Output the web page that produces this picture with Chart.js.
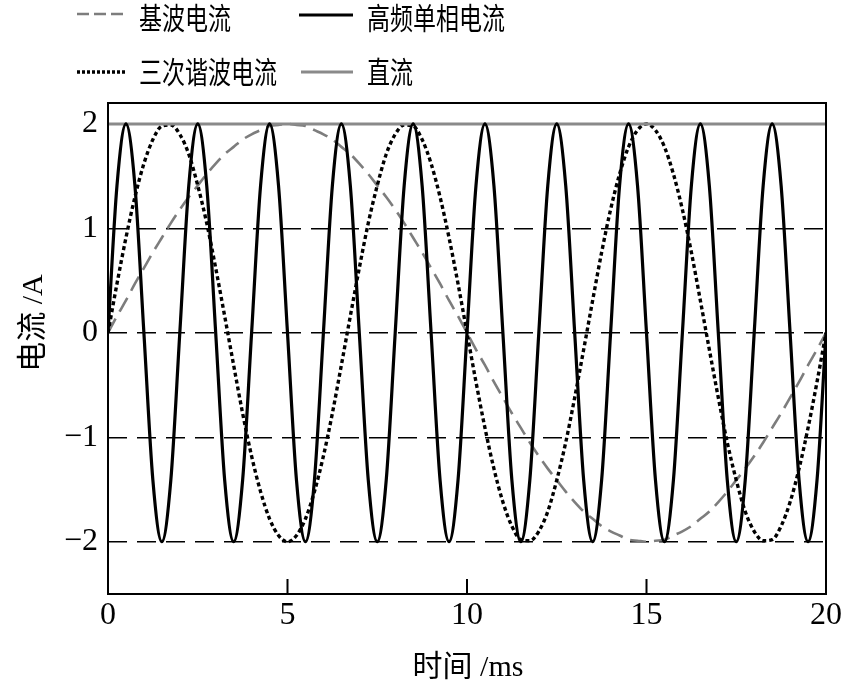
<!DOCTYPE html>
<html>
<head>
<meta charset="utf-8">
<script src="https://cdn.jsdelivr.net/npm/chart.js@4.4.0/dist/chart.umd.min.js"></script>
<style>
  html, body { margin: 0; padding: 0; background: #fff; }
</style>
</head>
<body>
<canvas id="current-chart" width="844" height="698"></canvas>
<script>
// =====================
// Data
// =====================

// time axis, ms
const timeMs = [
  0, 0.25, 0.5, 0.75, 1, 1.25, 1.5, 1.75, 2, 2.25,
  2.5, 2.75, 3, 3.25, 3.5, 3.75, 4, 4.25, 4.5, 4.75,
  5, 5.25, 5.5, 5.75, 6, 6.25, 6.5, 6.75, 7, 7.25,
  7.5, 7.75, 8, 8.25, 8.5, 8.75, 9, 9.25, 9.5, 9.75,
  10, 10.25, 10.5, 10.75, 11, 11.25, 11.5, 11.75, 12, 12.25,
  12.5, 12.75, 13, 13.25, 13.5, 13.75, 14, 14.25, 14.5, 14.75,
  15, 15.25, 15.5, 15.75, 16, 16.25, 16.5, 16.75, 17, 17.25,
  17.5, 17.75, 18, 18.25, 18.5, 18.75, 19, 19.25, 19.5, 19.75,
  20
];

// 基波电流 (A)
const fundamental = [
  0, 0.16, 0.31, 0.47, 0.62, 0.77, 0.91, 1.05, 1.18, 1.30,
  1.41, 1.52, 1.62, 1.71, 1.78, 1.85, 1.90, 1.94, 1.98, 1.99,
  2, 1.99, 1.98, 1.94, 1.90, 1.85, 1.78, 1.71, 1.62, 1.52,
  1.41, 1.30, 1.18, 1.05, 0.91, 0.77, 0.62, 0.47, 0.31, 0.16,
  0, -0.16, -0.31, -0.47, -0.62, -0.77, -0.91, -1.05, -1.18, -1.30,
  -1.41, -1.52, -1.62, -1.71, -1.78, -1.85, -1.90, -1.94, -1.98, -1.99,
  -2, -1.99, -1.98, -1.94, -1.90, -1.85, -1.78, -1.71, -1.62, -1.52,
  -1.41, -1.30, -1.18, -1.05, -0.91, -0.77, -0.62, -0.47, -0.31, -0.16,
  0
];

// 三次谐波电流 (A)
const thirdHarmonic = [
  0, 0.47, 0.91, 1.30, 1.62, 1.85, 1.98, 1.99, 1.90, 1.71,
  1.41, 1.05, 0.62, 0.16, -0.31, -0.77, -1.18, -1.52, -1.78, -1.94,
  -2, -1.94, -1.78, -1.52, -1.18, -0.77, -0.31, 0.16, 0.62, 1.05,
  1.41, 1.71, 1.90, 1.99, 1.98, 1.85, 1.62, 1.30, 0.91, 0.47,
  0, -0.47, -0.91, -1.30, -1.62, -1.85, -1.98, -1.99, -1.90, -1.71,
  -1.41, -1.05, -0.62, -0.16, 0.31, 0.77, 1.18, 1.52, 1.78, 1.94,
  2, 1.94, 1.78, 1.52, 1.18, 0.77, 0.31, -0.16, -0.62, -1.05,
  -1.41, -1.71, -1.90, -1.99, -1.98, -1.85, -1.62, -1.30, -0.91, -0.47,
  0
];

// 高频单相电流 (A)
const highFreq = [
  0, 1.41, 2, 1.41, 0, -1.41, -2, -1.41,
  0, 1.41, 2, 1.41, 0, -1.41, -2, -1.41,
  0, 1.41, 2, 1.41, 0, -1.41, -2, -1.41,
  0, 1.41, 2, 1.41, 0, -1.41, -2, -1.41,
  0, 1.41, 2, 1.41, 0, -1.41, -2, -1.41,
  0, 1.41, 2, 1.41, 0, -1.41, -2, -1.41,
  0, 1.41, 2, 1.41, 0, -1.41, -2, -1.41,
  0, 1.41, 2, 1.41, 0, -1.41, -2, -1.41,
  0, 1.41, 2, 1.41, 0, -1.41, -2, -1.41,
  0, 1.41, 2, 1.41, 0, -1.41, -2, -1.41,
  0
];

// 直流 (A)
const dcTime = [0, 20];
const dcValues = [2, 2];

// tick labels
const xTicks = [0, 5, 10, 15, 20];
const yTicks = [-2, -1, 0, 1, 2];

const SERIF = "'Liberation Serif', 'Noto Sans CJK SC', serif";

function toPoints(xs, ys) {
  return xs.map((x, i) => ({ x: x, y: ys[i] }));
}

// =====================
// Plugins: plot frame, inner ticks, legend, axis titles
// =====================
const framePlugin = {
  id: 'frame',
  afterDatasetsDraw(chart) {
    const { ctx, chartArea: a, scales } = chart;
    ctx.save();
    ctx.strokeStyle = '#000';
    ctx.lineWidth = 2;
    ctx.setLineDash([]);
    ctx.strokeRect(a.left, a.top, a.right - a.left, a.bottom - a.top);

    // inward ticks on the time axis
    ctx.beginPath();
    xTicks.forEach(v => {
      const px = scales.x.getPixelForValue(v);
      ctx.moveTo(px, a.bottom);
      ctx.lineTo(px, a.bottom - 15);
    });
    ctx.stroke();
    ctx.restore();
  }
};

const legendSlots = [
  { label: '基波电流',     x: 77,  lineEnd: 125, lineY: 14, textY: 18 },
  { label: '三次谐波电流', x: 77,  lineEnd: 125, lineY: 72, textY: 72 },
  { label: '高频单相电流', x: 299, lineEnd: 353, lineY: 15, textY: 18 },
  { label: '直流',         x: 301, lineEnd: 353, lineY: 72, textY: 72 }
];

const legendPlugin = {
  id: 'twoColumnLegend',
  afterDraw(chart) {
    const ctx = chart.ctx;
    ctx.save();
    legendSlots.forEach(slot => {
      const ds = chart.data.datasets.find(d => d.label === slot.label);
      if (!ds) return;
      ctx.strokeStyle = ds.borderColor;
      ctx.lineWidth = ds.borderWidth;
      ctx.setLineDash(ds.legendDash || ds.borderDash || []);
      ctx.beginPath();
      ctx.moveTo(slot.x, slot.lineY);
      ctx.lineTo(slot.lineEnd, slot.lineY);
      ctx.stroke();

      // condensed, tall glyphs as in the original figure
      ctx.save();
      ctx.translate(slot.lineEnd + 14, slot.textY);
      ctx.scale(1, 1.3);
      ctx.fillStyle = '#000';
      ctx.font = "23px 'Noto Sans CJK SC'";
      ctx.textAlign = 'left';
      ctx.textBaseline = 'middle';
      ctx.fillText(slot.label, 0, 0);
      ctx.restore();
    });
    ctx.restore();
  }
};

const axisTitlePlugin = {
  id: 'axisTitles',
  afterDraw(chart) {
    const ctx = chart.ctx;
    ctx.save();
    ctx.fillStyle = '#000';
    ctx.font = '30px ' + SERIF;
    ctx.textAlign = 'center';
    ctx.textBaseline = 'middle';
    ctx.fillText('时间 /ms', 468, 668);

    ctx.translate(34, 323);
    ctx.rotate(-Math.PI / 2);
    ctx.fillText('电流 /A', 0, 0);
    ctx.restore();
  }
};

// =====================
// Chart
// =====================
const ctx = document.getElementById('current-chart').getContext('2d');

const currentChart = new Chart(ctx, {
  type: 'line',
  data: {
    datasets: [
      {
        label: '高频单相电流',
        data: toPoints(timeMs, highFreq),
        borderColor: '#000',
        borderWidth: 3.2,
        cubicInterpolationMode: 'monotone'
      },
      {
        label: '直流',
        data: toPoints(dcTime, dcValues),
        borderColor: '#8a8a8a',
        borderWidth: 3
      },
      {
        label: '三次谐波电流',
        data: toPoints(timeMs, thirdHarmonic),
        borderColor: '#000',
        borderWidth: 3.4,
        borderDash: [4, 3],
        legendDash: [3, 2],
        cubicInterpolationMode: 'monotone'
      },
      {
        label: '基波电流',
        data: toPoints(timeMs, fundamental),
        borderColor: '#7d7d7d',
        borderWidth: 2.6,
        borderDash: [16, 8],
        legendDash: [12, 5],
        cubicInterpolationMode: 'monotone'
      }
    ]
  },
  options: {
    responsive: false,
    animation: false,
    devicePixelRatio: 1,
    layout: { padding: { top: 103, right: 17, left: 0, bottom: 0 } },
    elements: { point: { radius: 0 } },
    plugins: {
      legend: { display: false },
      tooltip: { enabled: false }
    },
    scales: {
      x: {
        type: 'linear',
        min: 0,
        max: 20,
        afterBuildTicks: scale => { scale.ticks = xTicks.map(v => ({ value: v })); },
        afterFit: scale => { scale.height = 104; },
        grid: { display: false, drawTicks: false },
        border: { display: false },
        ticks: {
          color: '#000',
          padding: 2,
          maxRotation: 0,
          autoSkip: false,
          font: { family: SERIF, size: 32 }
        }
      },
      y: {
        type: 'linear',
        min: -2.5,
        max: 2.2,
        afterBuildTicks: scale => { scale.ticks = yTicks.map(v => ({ value: v })); },
        afterFit: scale => { scale.width = 108; },
        grid: { color: '#000', lineWidth: 1.5, drawTicks: false },
        border: { display: false, dash: [19, 10] },
        ticks: {
          color: '#000',
          padding: 10,
          font: { family: SERIF, size: 32 },
          callback: v => String(v).replace('-', '\u2212')
        }
      }
    }
  },
  plugins: [framePlugin, legendPlugin, axisTitlePlugin]
});
</script>
</body>
</html>
